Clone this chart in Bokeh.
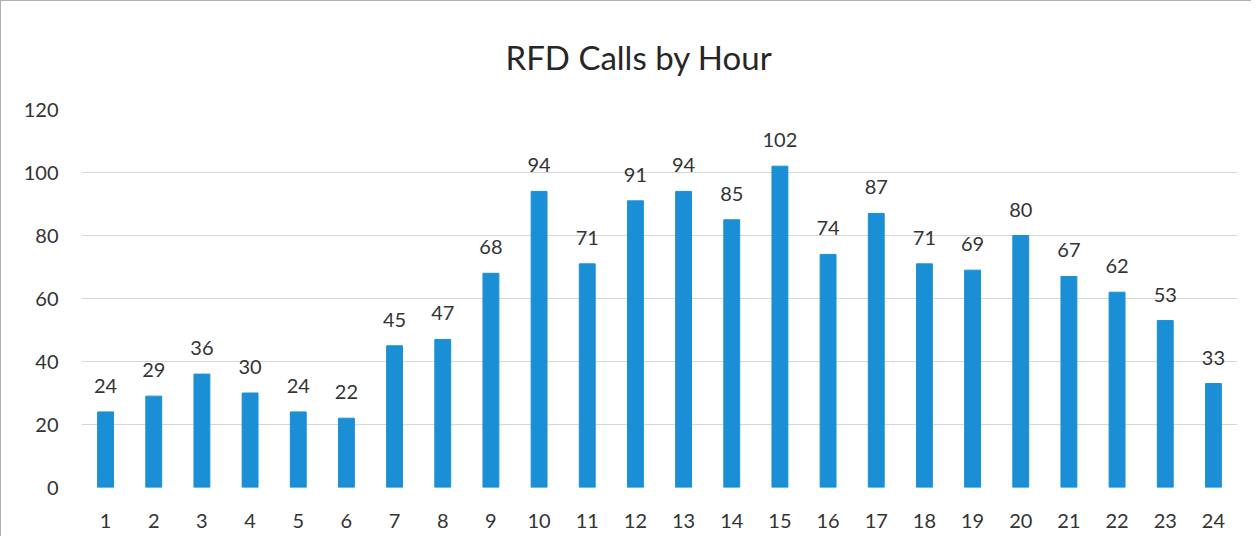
from bokeh.plotting import figure
from bokeh.models import ColumnDataSource, FactorRange, Range1d, FixedTicker, LabelSet
from bokeh.core.properties import value
from bokeh.embed import file_html
from bokeh.resources import INLINE

hours = [str(h) for h in range(1, 25)]
calls = [24, 29, 36, 30, 24, 22, 45, 47, 68, 94, 71, 91, 94, 85, 102, 74, 87, 71, 69, 80, 67, 62, 53, 33]
y_ticks = [0, 20, 40, 60, 80, 100, 120]

src = ColumnDataSource(dict(x=hours, y=calls, lab=[str(v) for v in calls]))

FONT = "Lato"
p = figure(width=1251, height=536, output_backend="svg", toolbar_location=None,
           x_range=FactorRange(*hours, range_padding=0), y_range=Range1d(0, 120),
           min_border_left=80, min_border_right=15, min_border_top=107, min_border_bottom=50)
p.title.text = "RFD Calls by Hour"
p.title.align = "left"
p.title.text_font = FONT
p.title.text_font_size = "33px"
p.title.text_font_style = "normal"
p.title.text_color = "#262626"
p.title.offset = 424
p.title.standoff = 66

p.vbar(x="x", top="y", width=0.33, source=src, color="#1b8fd6")
p.add_layout(LabelSet(x="x", y="y", text="lab", source=src, text_align="center",
                      text_baseline="bottom", y_offset=19, text_font=value(FONT),
                      text_font_size="20px", text_color="#333333"))

p.yaxis.ticker = FixedTicker(ticks=y_ticks)
for ax in (p.xaxis, p.yaxis):
    ax.axis_line_color = None
    ax.major_tick_line_color = None
    ax.minor_tick_line_color = None
    ax.major_label_text_font = FONT
    ax.major_label_text_font_size = "20px"
    ax.major_label_text_color = "#333333"
p.yaxis.major_label_standoff = 17
p.xaxis.major_label_standoff = 20
p.xgrid.grid_line_color = None
p.ygrid.grid_line_color = "#d6d6d6"
p.ygrid.ticker = FixedTicker(ticks=y_ticks)
p.outline_line_color = None
p.background_fill_color = "white"
p.border_fill_color = "white"
p.styles = {"border-left": "1px solid #b0b0b0", "border-top": "1px solid #b0b0b0"}

open("out.html", "w").write(file_html(p, INLINE))
